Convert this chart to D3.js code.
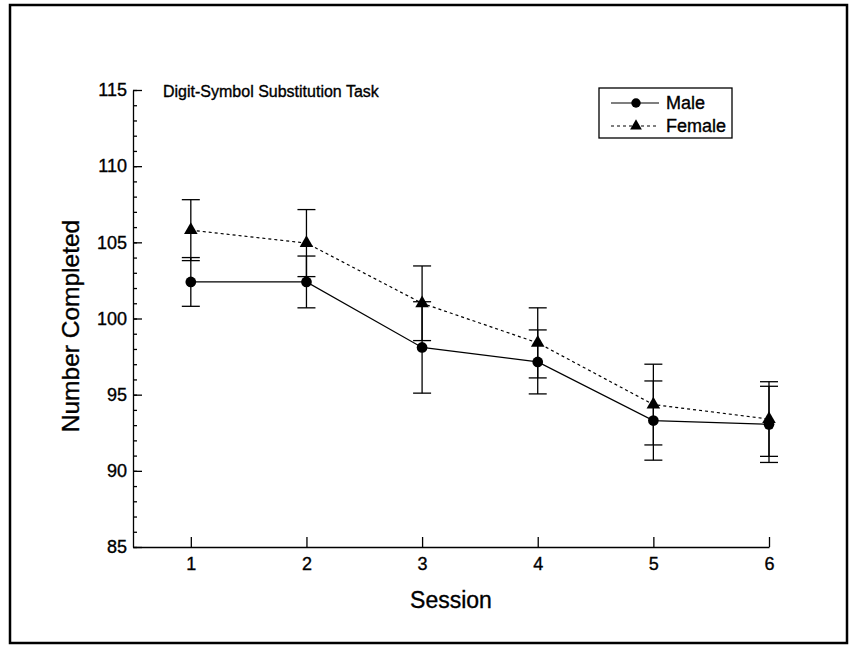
<!DOCTYPE html>
<html>
<head>
<meta charset="utf-8">
<script src="https://cdn.jsdelivr.net/npm/d3@7"></script>
<style>
  body { margin: 0; background: #fff; }
  text { font-family: Arial, "Liberation Sans", Helvetica, sans-serif; fill: #000; stroke: #000; stroke-width: 0.35px; }
</style>
</head>
<body>
<script>
// values
const sessions = [1, 2, 3, 4, 5, 6];
const maleMean = [102.4, 102.4, 98.1, 97.15, 93.3, 93.05];
const maleErr = [1.6, 1.7, 3.0, 2.1, 2.6, 2.5];
const femaleMean = [105.8, 104.95, 101.0, 98.4, 94.35, 93.4];
const femaleErr = [2.0, 2.2, 2.45, 2.3, 2.65, 2.45];
const yMajor = [85, 90, 95, 100, 105, 110, 115];
const legendLabels = ["Male", "Female"];

const WIDTH = 851;
const HEIGHT = 646;
const X0 = 133, X1 = 769;
const Y_TOP = 90, Y_BOT = 547;

let svg = d3.select("body").append("svg")
    .attr("width", WIDTH)
    .attr("height", HEIGHT);

// outer frame
svg.append("rect")
    .attr("x", 10).attr("y", 5)
    .attr("width", 837).attr("height", 638)
    .attr("fill", "none").attr("stroke", "#000").attr("stroke-width", 2.5);

let xscale = d3.scaleLinear().domain([0.5, 6]).range([X0, X1]);
let yscale = d3.scaleLinear().domain([85, 115]).range([Y_BOT, Y_TOP]);

// minor y ticks (every 1), pointing inward
let minor = d3.axisLeft(yscale).tickValues(d3.range(85, 116, 1))
    .tickFormat("").tickSizeInner(-4).tickSizeOuter(0);
svg.append("g").attr("transform", "translate(" + X0 + ",0)").call(minor)
    .select(".domain").remove();

// major y axis
let yAxis = d3.axisLeft(yscale).tickValues(yMajor)
    .tickSizeInner(-9).tickSizeOuter(0).tickPadding(6);
let yg = svg.append("g").attr("transform", "translate(" + X0 + ",0)").call(yAxis);
yg.selectAll("text").style("font-size", "18px");

// x axis
let xAxis = d3.axisBottom(xscale).tickValues(sessions).tickFormat(d3.format("d"))
    .tickSizeInner(-10).tickSizeOuter(0).tickPadding(10);
let xg = svg.append("g").attr("transform", "translate(0," + Y_BOT + ")").call(xAxis);
xg.selectAll("text").style("font-size", "18px");

svg.selectAll(".domain, .tick line").attr("stroke", "#000").attr("stroke-width", 1.3);

// axis titles
svg.append("text")
    .attr("x", (X0 + X1) / 2).attr("y", 608)
    .attr("text-anchor", "middle")
    .style("font-size", "23px")
    .text("Session");

svg.append("text")
    .attr("transform", "translate(79,326) rotate(-90)")
    .attr("text-anchor", "middle")
    .style("font-size", "24.5px")
    .text("Number Completed");

svg.append("text")
    .attr("x", 163).attr("y", 97)
    .style("font-size", "16px")
    .text("Digit-Symbol Substitution Task");

// data series
let series = [
    { name: "Male", mean: maleMean, err: maleErr, dash: null, shape: d3.symbolCircle },
    { name: "Female", mean: femaleMean, err: femaleErr, dash: "3,3", shape: d3.symbolTriangle }
];

let line = d3.line()
    .x((d, i) => xscale(sessions[i]))
    .y(d => yscale(d));

series.forEach(s => {
    let g = svg.append("g");

    // error bars
    sessions.forEach((x, i) => {
        let cx = xscale(x);
        let lo = yscale(s.mean[i] - s.err[i]);
        let hi = yscale(s.mean[i] + s.err[i]);
        g.append("line").attr("x1", cx).attr("x2", cx).attr("y1", lo).attr("y2", hi)
            .attr("stroke", "#000").attr("stroke-width", 1.3);
        [lo, hi].forEach(y => {
            g.append("line").attr("x1", cx - 9).attr("x2", cx + 9).attr("y1", y).attr("y2", y)
                .attr("stroke", "#000").attr("stroke-width", 1.3);
        });
    });

    g.append("path")
        .datum(s.mean)
        .attr("fill", "none")
        .attr("stroke", "#000")
        .attr("stroke-width", 1.2)
        .attr("stroke-dasharray", s.dash)
        .attr("d", line);

    g.selectAll("path.marker")
        .data(s.mean)
        .enter().append("path")
        .attr("class", "marker")
        .attr("transform", (d, i) => "translate(" + xscale(sessions[i]) + "," + yscale(d) + ")")
        .attr("d", d3.symbol().type(s.shape).size(s.name === "Male" ? 90 : 80))
        .attr("fill", "#000");
});

// legend
let lg = svg.append("g").attr("transform", "translate(599,88)");
lg.append("rect").attr("width", 133).attr("height", 50)
    .attr("fill", "#fff").attr("stroke", "#000").attr("stroke-width", 1.3);
series.forEach((s, i) => {
    let y = 15 + i * 23;
    lg.append("line").attr("x1", 12).attr("x2", 60).attr("y1", y).attr("y2", y)
        .attr("stroke", "#000").attr("stroke-width", 1.2).attr("stroke-dasharray", s.dash);
    lg.append("path").attr("transform", "translate(37," + y + ")")
        .attr("d", d3.symbol().type(s.shape).size(s.name === "Male" ? 70 : 60))
        .attr("fill", "#000");
    lg.append("text").attr("x", 67).attr("y", y + 6)
        .style("font-size", "18px")
        .text(legendLabels[i]);
});
</script>
</body>
</html>
